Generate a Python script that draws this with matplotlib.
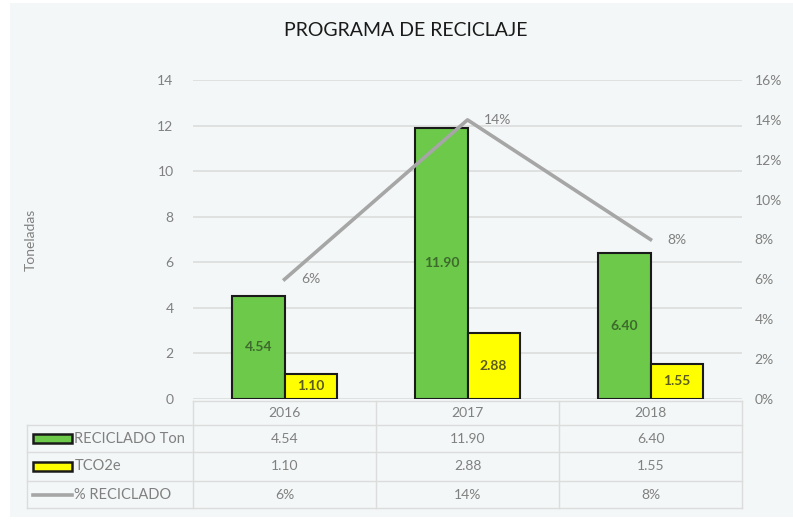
import matplotlib.pyplot as plt
from matplotlib.patches import Rectangle
import numpy as np

# Datos
anios = ['2016', '2017', '2018']
reciclado_ton = [4.54, 11.90, 6.40]
tco2e = [1.10, 2.88, 1.55]
pct_reciclado = [0.06, 0.14, 0.08]
series = ['RECICLADO Ton', 'TCO2e', '% RECICLADO']

verde = '#6cc94a'
amarillo = '#ffff00'
gris_linea = '#a6a6a6'
gris_texto = '#808080'
gris_rejilla = '#dcdcdc'

plt.rcParams['font.family'] = ['Lato', 'DejaVu Sans']

fig = plt.figure(figsize=(7.93, 5.28), dpi=100)
fig.patches.append(Rectangle((10 / 793, 11 / 528), 1, 1 - 14 / 528, transform=fig.transFigure,
                             facecolor='#f3f7f7', edgecolor='none', zorder=-10))

ax = fig.add_axes([193 / 793, 1 - 399 / 528, 549 / 793, 319 / 528])
ax.set_facecolor('none')

x = np.arange(len(anios))
w = 0.285
b1 = ax.bar(x - w / 2, reciclado_ton, w, color=verde, edgecolor='#1a1a1a', linewidth=1.5, zorder=3)
b2 = ax.bar(x + w / 2, tco2e, w, color=amarillo, edgecolor='#1a1a1a', linewidth=1.5, zorder=3)
ax.bar_label(b1, fmt='%.2f', label_type='center', fontsize=10, fontweight='bold', color='#3d6b2c')
ax.bar_label(b2, fmt='%.2f', label_type='center', fontsize=10, fontweight='bold', color='#5c5c1e')

ax.set_xlim(-0.5, 2.5)
ax.set_ylim(0, 14)
ax.set_yticks(range(0, 15, 2))
ax.set_xticks([])
ax.yaxis.grid(True, color=gris_rejilla, linewidth=1.2)
ax.set_axisbelow(True)
for s in ax.spines.values():
    s.set_visible(False)
ax.tick_params(axis='y', length=0, pad=14, labelsize=10, labelcolor=gris_texto)
ax.set_ylabel('Toneladas', fontsize=10, color=gris_texto)
ax.yaxis.set_label_coords(-0.284, 0.5)

# Eje secundario: porcentaje
ax2 = ax.twinx()
ax2.plot(x, pct_reciclado, color=gris_linea, linewidth=2.6, zorder=4)
ax2.set_ylim(0, 0.16)
ax2.set_yticks(np.arange(0, 0.161, 0.02))
ax2.set_yticklabels([f'{v:.0%}' for v in np.arange(0, 0.161, 0.02)])
for s in ax2.spines.values():
    s.set_visible(False)
ax2.tick_params(axis='y', length=0, pad=9, labelsize=10, labelcolor=gris_texto)
for xi, p in zip(x, pct_reciclado):
    ax2.annotate(f'{p:.0%}', (xi, p), xytext=(12, 0), textcoords='offset points',
                 va='center', ha='left', fontsize=10, color=gris_texto)

# Tabla de datos
filas_y = [-0.006, -0.082, -0.166, -0.257, -0.342]
x_etiqueta = -0.302
kw = dict(transform=ax.transAxes, clip_on=False, color=gris_rejilla, linewidth=1)
ax.plot([0, 1], [filas_y[0]] * 2, **kw)
for yy in filas_y[1:]:
    ax.plot([x_etiqueta, 1], [yy, yy], **kw)
for xx in [0, 1 / 3, 2 / 3, 1]:
    ax.plot([xx, xx], [filas_y[0], filas_y[-1]], **kw)
ax.plot([x_etiqueta, x_etiqueta], [filas_y[1], filas_y[-1]], **kw)

tr = ax.get_xaxis_transform()
medios = [(a + b) / 2 for a, b in zip(filas_y[:-1], filas_y[1:])]
for xi, a in zip(x, anios):
    ax.text(xi, medios[0], a, transform=tr, ha='center', va='center', fontsize=10, color=gris_texto)
valores = [[f'{v:.2f}' for v in reciclado_ton],
           [f'{v:.2f}' for v in tco2e],
           [f'{v:.0%}' for v in pct_reciclado]]
for fila, ym in zip(valores, medios[1:]):
    for xi, t in zip(x, fila):
        ax.text(xi, ym, t, transform=tr, ha='center', va='center', fontsize=10, color=gris_texto)

# Leyenda dentro de la tabla
sw_x0, sw_x1, sw_h = -0.291, -0.220, 0.028
for nombre, color, ym in zip(series[:2], [verde, amarillo], medios[1:3]):
    ax.add_patch(Rectangle((sw_x0, ym - sw_h / 2), sw_x1 - sw_x0, sw_h, transform=ax.transAxes,
                           facecolor=color, edgecolor='#1a1a1a', linewidth=1.8, clip_on=False))
    ax.text(sw_x1 + 0.004, ym, nombre, transform=ax.transAxes, ha='left', va='center',
            fontsize=10.5, color=gris_texto)
ax.plot([sw_x0, sw_x1], [medios[3]] * 2, transform=ax.transAxes, clip_on=False,
        color=gris_linea, linewidth=2.6)
ax.text(sw_x1 + 0.004, medios[3], series[2], transform=ax.transAxes, ha='left', va='center',
        fontsize=10.5, color=gris_texto)

fig.text(406 / 793, 1 - 30 / 528, 'PROGRAMA DE RECICLAJE', ha='center', va='center',
         fontsize=14, color='#1a1a1a')

fig.savefig('out.png', dpi=100)
